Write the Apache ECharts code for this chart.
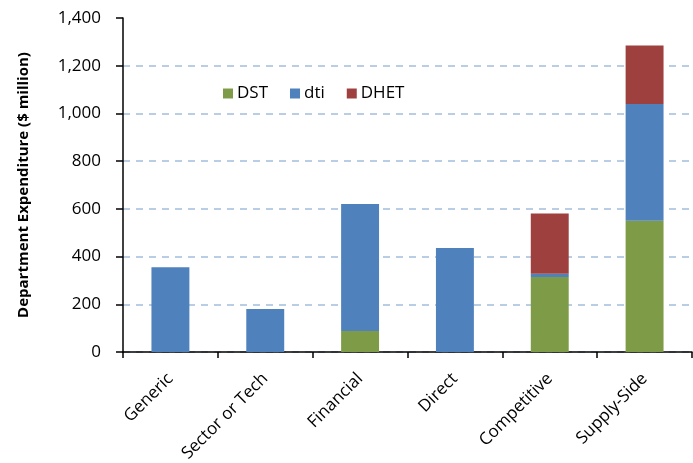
<!DOCTYPE html>
<html>
<head>
<meta charset="utf-8">
<script src="https://cdn.jsdelivr.net/npm/echarts@6/dist/echarts.min.js"></script>
<style>
  html, body { margin: 0; padding: 0; background: #fff; }
  #chart { width: 693px; height: 463px; }
</style>
</head>
<body>
<div id="chart"></div>
<script>
  let categories = ['Generic', 'Sector or Tech', 'Financial', 'Direct', 'Competitive', 'Supply-Side']
  let dstData = [0, 0, 88, 0, 314, 550]
  let dtiData = [355, 180, 532, 436, 14, 490]
  let dhetData = [0, 0, 0, 0, 253, 245]
  let yTicks = [0, 200, 400, 600, 800, 1000, 1200, 1400]

  let font = '"Open Sans", "Liberation Sans", sans-serif'
  let myChart = echarts.init(document.getElementById('chart'))
  let option = {
    animation: false,
    grid: {
      left: 123,
      right: 1,
      top: 18,
      bottom: 111,
      outerBoundsMode: 'none'
    },
    legend: {
      data: ['DST', 'dti', 'DHET'],
      left: 218,
      top: 80,
      itemWidth: 10,
      itemHeight: 10,
      itemGap: 22,
      icon: 'rect',
      textStyle: {
        color: '#000',
        fontSize: 17,
        fontFamily: font,
        padding: [0, 0, 0, -1]
      }
    },
    xAxis: {
      type: 'category',
      data: categories,
      axisTick: {
        show: true,
        length: 6,
        lineStyle: { color: '#000', width: 1.5 }
      },
      axisLine: {
        lineStyle: { color: '#000', width: 1.5 }
      },
      axisLabel: {
        color: '#000',
        fontSize: 17,
        fontFamily: font,
        rotate: 45,
        interval: 0,
        margin: 24
      }
    },
    yAxis: {
      type: 'value',
      min: yTicks[0],
      max: yTicks[yTicks.length - 1],
      interval: 200,
      name: 'Department Expenditure ($ million)',
      nameLocation: 'middle',
      nameGap: 92,
      nameTextStyle: {
        color: '#000',
        fontSize: 15,
        fontWeight: 'bold',
        fontFamily: font
      },
      axisLine: {
        show: true,
        lineStyle: { color: '#000', width: 1.5 }
      },
      axisTick: {
        show: true,
        length: 7,
        lineStyle: { color: '#000', width: 1.5 }
      },
      splitLine: {
        showMaxLine: false,
        lineStyle: {
          color: '#b9cde5',
          width: 2,
          type: [7, 6]
        }
      },
      axisLabel: {
        color: '#000',
        fontSize: 17,
        fontFamily: font,
        margin: 22,
        formatter: function (v) {
          return v.toLocaleString('en-US')
        }
      }
    },
    series: [
      {
        name: 'DST',
        type: 'bar',
        stack: 'total',
        data: dstData,
        barWidth: '40%',
        itemStyle: { color: '#7e9c47' }
      },
      {
        name: 'dti',
        type: 'bar',
        stack: 'total',
        data: dtiData,
        itemStyle: { color: '#4f81bd' }
      },
      {
        name: 'DHET',
        type: 'bar',
        stack: 'total',
        data: dhetData,
        itemStyle: { color: '#9e413e' }
      }
    ]
  }
  myChart.setOption(option)
</script>
</body>
</html>
